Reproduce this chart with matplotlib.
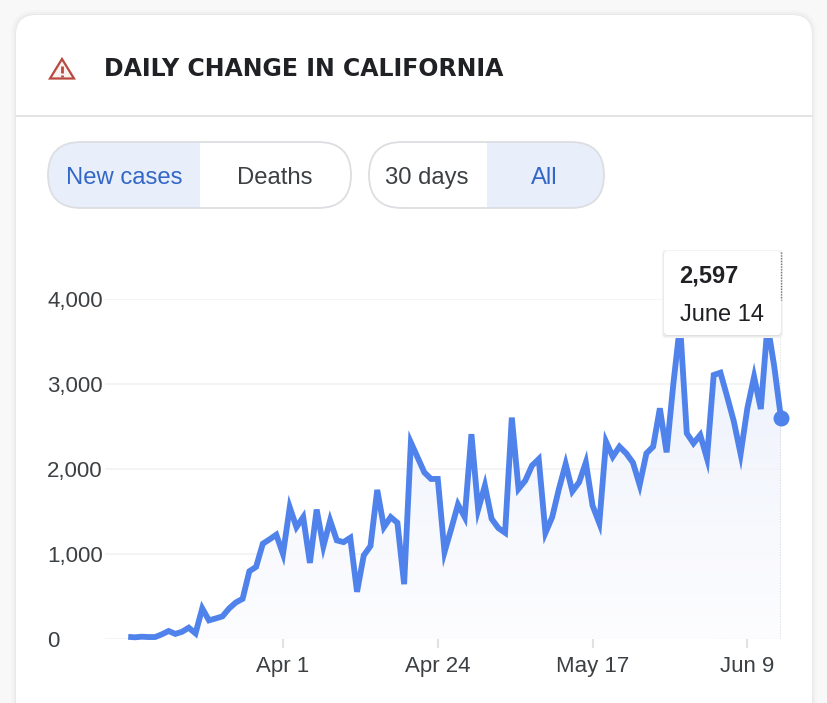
import matplotlib
matplotlib.use("Agg")
import matplotlib.pyplot as plt
import numpy as np
import pandas as pd
from matplotlib.colors import LinearSegmentedColormap
from matplotlib.patches import FancyBboxPatch, Polygon, Rectangle

plt.rcParams["font.family"] = ["Liberation Sans", "DejaVu Sans"]

START_DATE = "2020-03-09"
NEW_CASES = [
    25, 20, 27, 23, 23, 55, 94, 60, 85, 133,
    66, 360, 219, 242, 266, 360, 430, 473, 797, 848,
    1121, 1172, 1227, 1000, 1550, 1316, 1434, 895, 1523, 1090,
    1395, 1160, 1140, 1191, 555, 984, 1094, 1754, 1316, 1434,
    1367, 645, 2312, 2137, 1960, 1883, 1883, 1023, 1297, 1582,
    1434, 2410, 1523, 1805, 1414, 1305, 1250, 2605, 1766, 1863,
    2040, 2117, 1250, 1434, 1766, 2059, 1738, 1844, 2078, 1570,
    1363, 2321, 2145, 2263, 2184, 2075, 1812, 2184, 2263, 2714,
    2196, 3000, 3700, 2420, 2302, 2400, 2125, 3106, 3133, 2851,
    2557, 2176, 2714, 3086, 2706, 3700, 3204, 2597,
]
Y_TICKS = [0, 1000, 2000, 3000, 4000]
X_TICK_DATES = ["2020-04-01", "2020-04-24", "2020-05-17", "2020-06-09"]
X_TICK_LABELS = ["Apr 1", "Apr 24", "May 17", "Jun 9"]

W, H = 828, 703
BLUE = "#4f82ea"
TEXT = "#3c4043"
DARK = "#202124"
SELECTED = "#e8eefa"
BORDER = "#dcdee2"


def pixel_axes(fig):
    """Add a transparent axes that covers the figure, in pixel coordinates."""
    ax = fig.add_axes([0, 0, 1, 1])
    ax.set_xlim(0, W)
    ax.set_ylim(H, 0)
    ax.axis("off")
    ax.patch.set_alpha(0)
    return ax


def rounded(ax, x0, y0, x1, y1, radius, **kwargs):
    """Add a rounded box given by its pixel corners."""
    box = FancyBboxPatch(
        (x0 + radius, y0 + radius), x1 - x0 - 2 * radius, y1 - y0 - 2 * radius,
        boxstyle=f"round,pad={radius},rounding_size={radius}", **kwargs)
    ax.add_patch(box)
    return box


def draw_pill(ax, x0, x1, split, selected_left, labels, centers):
    """Draw a two part toggle button."""
    y0, y1 = 142, 208
    shape = rounded(ax, x0, y0, x1, y1, 33, facecolor="white", edgecolor="none")
    if selected_left:
        part = Rectangle((x0, y0), split - x0, y1 - y0, color=SELECTED, lw=0)
    else:
        part = Rectangle((split, y0), x1 - split, y1 - y0, color=SELECTED, lw=0)
    ax.add_patch(part)
    part.set_clip_path(shape)
    rounded(ax, x0, y0, x1, y1, 33, facecolor="none", edgecolor=BORDER, linewidth=1.3)
    for i, (label, cx) in enumerate(zip(labels, centers)):
        is_on = (i == 0) == selected_left
        ax.text(cx, 184, label, ha="center", va="baseline", fontsize=17.2,
                color="#3367c6" if is_on else TEXT)


def draw_card(ax):
    """Draw the card, its header and the buttons."""
    ax.add_patch(Rectangle((0, 0), W, H, color="#f8f8f8", lw=0))
    for grow, shade in [(5, "#f5f5f5"), (3, "#f0f0f0"), (1, "#e8e8e8")]:
        rounded(ax, 16 - grow, 15 - grow, 812 + grow, 760, 20 + grow,
                facecolor=shade, edgecolor="none")
    rounded(ax, 16, 15, 812, 760, 20, facecolor="white", edgecolor="none")
    ax.plot([16, 812], [116, 116], color="#e2e2e2", lw=1.3)

    red = "#b8493f"
    ax.add_patch(Polygon([(62, 59), (74, 78.5), (50, 78.5)], closed=True,
                         facecolor="#fbf1f0", edgecolor=red, linewidth=1.6))
    ax.plot([62, 62], [65.5, 72.5], color=red, lw=2, solid_capstyle="butt")
    ax.plot([62, 62], [74.5, 76.5], color=red, lw=2, solid_capstyle="butt")

    ax.text(104, 68.5, "DAILY CHANGE IN CALIFORNIA", ha="left", va="center",
            fontsize=17, fontweight="bold", color=DARK, family="DejaVu Sans")

    draw_pill(ax, 48, 351, 200, True, ["New cases", "Deaths"], [124.5, 274.5])
    draw_pill(ax, 369, 604, 487, False, ["30 days", "All"], [427, 544.5])


def draw_chart(fig):
    """Draw the daily change line with its gradient area."""
    dates = pd.date_range(START_DATE, periods=len(NEW_CASES))
    tick_dates = pd.to_datetime(X_TICK_DATES)

    # pixel scale of the time axis: Apr 1 at 283, last point at 781
    px_per_day = (781 - 283) / (dates[-1] - tick_dates[0]).days
    left = tick_dates[0] - pd.Timedelta(days=(283 - 105) / px_per_day)

    ax = fig.add_axes([105 / W, 1 - 639 / H, (781 - 105) / W, (639 - 299) / H])
    ax.patch.set_alpha(0)
    ax.set_xlim(left, dates[-1])
    ax.set_ylim(0, 4000)
    for spine in ax.spines.values():
        spine.set_visible(False)

    ax.set_yticks(Y_TICKS)
    ax.set_yticklabels([f"{v:,}" for v in Y_TICKS], ha="left")
    ax.set_xticks(tick_dates)
    ax.set_xticklabels(X_TICK_LABELS)
    # y labels are left aligned at x=48, 57 px from the axes edge
    ax.tick_params(axis="y", length=0, pad=41.7, labelsize=16, labelcolor=TEXT)
    ax.tick_params(axis="x", length=6.5, width=1.5, color="#e2e2e2", pad=5.5,
                   labelsize=16, labelcolor=TEXT)
    ax.grid(axis="y", color="#f3f3f3", lw=1.3)
    ax.set_axisbelow(True)

    area = ax.fill_between(dates, NEW_CASES, 0, color="none", lw=0)
    gradient = np.linspace(0, 1, 256).reshape(-1, 1)
    cmap = LinearSegmentedColormap.from_list("fade", ["#e9effb", "#fdfdff"])
    x_lo, x_hi = ax.get_xlim()
    image = ax.imshow(gradient, cmap=cmap, aspect="auto", zorder=1,
                      extent=[x_lo, x_hi, 0, max(NEW_CASES)], alpha=0.85)
    image.set_clip_path(area.get_paths()[0], transform=ax.transData)
    ax.set_xlim(x_lo, x_hi)
    ax.set_ylim(0, 4000)

    ax.plot(dates, NEW_CASES, color=BLUE, lw=4.2, solid_joinstyle="miter",
            solid_capstyle="butt", clip_on=False, zorder=3)
    ax.plot(dates[-1], NEW_CASES[-1], "o", color=BLUE, ms=11.5, mew=0,
            clip_on=False, zorder=4)
    ax.plot([dates[-1], dates[-1]], [0, 4000], color="#777777", lw=1,
            ls=(0, (1, 1)), zorder=2)


def draw_tooltip(ax):
    """Draw the tooltip box over the chart."""
    ax.plot([781, 781], [252, 300], color="#777777", lw=1, ls=(0, (1, 1)))
    for grow, shade in [(3, "#f3f3f3"), (2, "#ebebeb"), (1, "#e0e0e0")]:
        rounded(ax, 664 - grow + 1, 251 - grow + 2, 781 + grow - 1, 335 + grow,
                4, facecolor=shade, edgecolor="none")
    rounded(ax, 664, 251, 781, 335, 4, facecolor="white", edgecolor="none")
    ax.text(679.5, 276, f"{NEW_CASES[-1]:,}", ha="left", va="center", fontsize=17,
            fontweight="bold", color=DARK)
    ax.text(680, 315, "June 14", ha="left", va="center", fontsize=17, color=DARK)


def main():
    """Build the figure and save it."""
    fig = plt.figure(figsize=(W / 100, H / 100), dpi=100)
    draw_card(pixel_axes(fig))
    draw_chart(fig)
    draw_tooltip(pixel_axes(fig))
    fig.savefig("out.png", dpi=100)


if __name__ == "__main__":
    main()
